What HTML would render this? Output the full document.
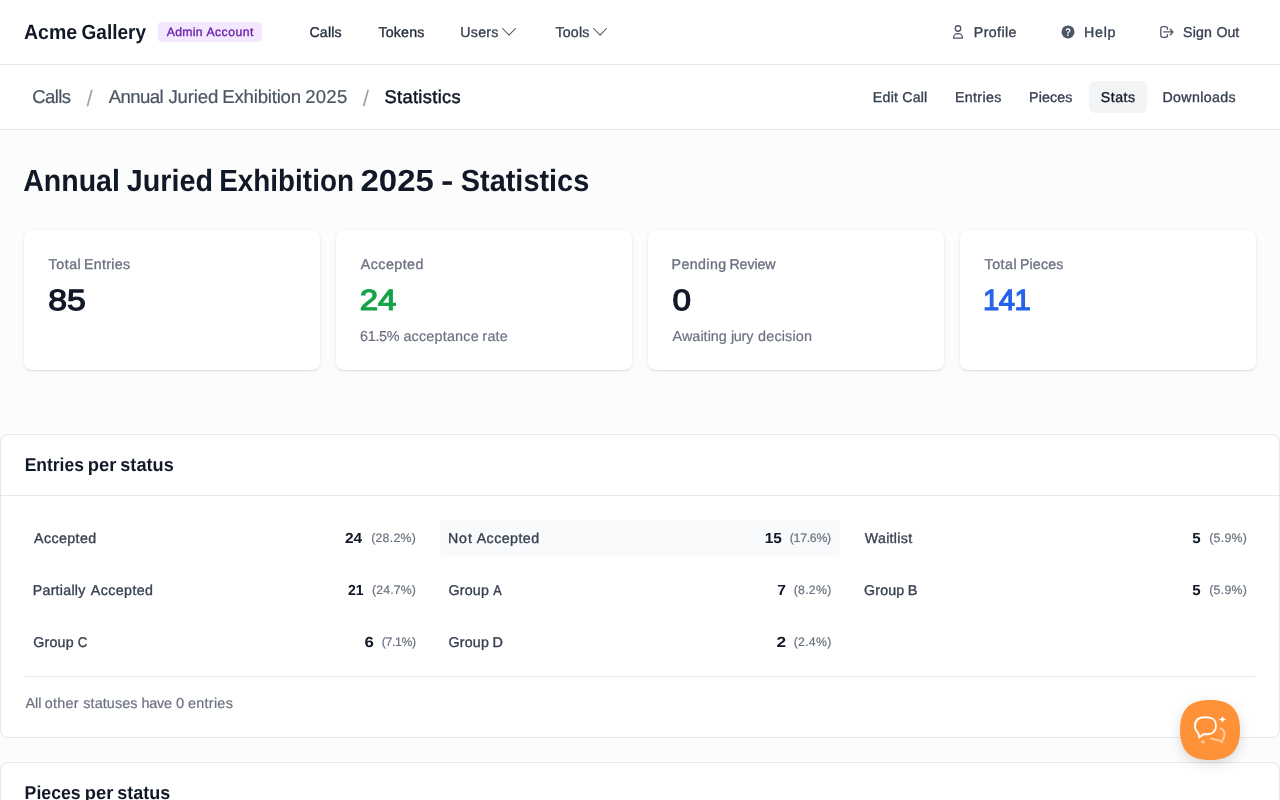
<!DOCTYPE html>
<html lang="en">
<head>
<meta charset="utf-8">
<title>Annual Juried Exhibition 2025 - Statistics</title>
<style>
*{box-sizing:border-box;margin:0;padding:0}
html,body{width:1280px;height:800px;overflow:hidden}
body{font-family:"Liberation Sans",Arial,sans-serif;background:#fcfcfc;color:#111827;position:relative;text-rendering:geometricPrecision}
a{color:inherit;text-decoration:none}
.t{position:absolute;white-space:nowrap;line-height:1;transform-origin:0 0}
.w{display:inline-block;position:relative;transform-origin:0 0}
.bar{position:absolute;left:0;width:1280px;background:#fff;border-bottom:1px solid #e5e7eb}
.badgebg{position:absolute;left:158px;top:22px;width:104px;height:20px;border-radius:4px;background:#f3e8ff}
.tabbg{position:absolute;left:1089px;top:81px;width:58px;height:32px;border-radius:6px;background:#f3f4f6}
.card{position:absolute;top:230px;width:296px;height:140px;background:#fff;border-radius:8px;box-shadow:0 1px 3px rgba(0,0,0,.1),0 1px 2px -1px rgba(0,0,0,.1)}
.panel{position:absolute;left:0;width:1280px;background:#fff;border:1px solid #e5e7eb;border-radius:8px}
.hr{position:absolute;height:1px;background:#e5e7eb}
.hl{position:absolute;left:440.33px;top:520px;width:399.33px;height:36px;border-radius:4px;background:#f9fafb}
.ico{position:absolute;overflow:visible}
.fab{position:absolute;left:1180px;top:700px;width:60px;height:60px;filter:drop-shadow(0 4px 6px rgba(0,0,0,.14))}
.brand{font-size:20.6px;font-weight:700;color:#111827}
.badge{font-size:12.2px;font-weight:400;color:#6b21a8;-webkit-text-stroke:0.35px #6b21a8}
.navd{font-size:14.2px;font-weight:400;color:#1f2937;-webkit-text-stroke:0.35px #1f2937}
.navl{font-size:14.2px;font-weight:400;color:#374151;-webkit-text-stroke:0.35px #374151}
.bc{font-size:18.6px;font-weight:400;color:#4b5563;-webkit-text-stroke:0.2px #4b5563}
.bcs{font-size:22.6px;font-weight:400;color:#9ca3af}
.bcc{font-size:18.3px;font-weight:400;color:#111827;-webkit-text-stroke:0.5px #111827}
.tab{font-size:14.2px;font-weight:400;color:#374151;-webkit-text-stroke:0.35px #374151}
.taba{font-size:14.2px;font-weight:400;color:#111827;-webkit-text-stroke:0.35px #111827}
.h1{font-size:30.6px;font-weight:700;color:#111827}
.lb{font-size:14.2px;font-weight:400;color:#6b7280;-webkit-text-stroke:0.35px #6b7280}
.val{font-size:29.3px;font-weight:400;color:#111827;-webkit-text-stroke:1.2px #111827}
.valg{font-size:29.3px;font-weight:400;color:#16a34a;-webkit-text-stroke:1.2px #16a34a}
.valb{font-size:29.3px;font-weight:400;color:#2563eb;-webkit-text-stroke:1.2px #2563eb}
.nt{font-size:14.4px;font-weight:400;color:#6b7280;-webkit-text-stroke:0.2px #6b7280}
.h2{font-size:18.7px;font-weight:700;color:#111827}
.rl{font-size:14.2px;font-weight:400;color:#374151;-webkit-text-stroke:0.35px #374151}
.rc{font-size:14.6px;font-weight:700;color:#111827}
.rp{font-size:12.3px;font-weight:400;color:#6b7280;-webkit-text-stroke:0.2px #6b7280}
</style>
</head>
<body>
<nav>
<div class="bar" style="top:0;height:65px"></div>
<a class="t brand" style="left:24px;top:23px"><span class="w" style="left:0px;transform:translateX(0.03px) scaleX(0.9473)">Acme</span> <span class="w" style="left:-4.828px;transform:translateX(0.56px) scaleX(0.9239)">Gallery</span></a>
<div class="badgebg"></div>
<span class="t badge" style="left:166px;top:26px"><span class="w" style="left:0.75px;letter-spacing:0.288px">Admin</span> <span class="w" style="left:1.109px;letter-spacing:0.458px">Account</span></span>
<a class="t navd" style="top:26px;left:309.5px;letter-spacing:0.125px">Calls</a>
<a class="t navd" style="top:26px;left:378.5px;letter-spacing:0.17px">Tokens</a>
<a class="t navl" style="top:26px;left:460.25px;letter-spacing:0.275px">Users</a>
<svg class="ico" style="left:500px;top:24px" width="18" height="16" viewBox="500 24 18 16" fill="none" stroke="#4b5563" stroke-width="1.05" stroke-linecap="round" stroke-linejoin="round"><path d="M502.6 28.5 L509 35.1 L515.4 28.5"/></svg>
<a class="t navl" style="top:26px;left:555.4px;letter-spacing:0.238px">Tools</a>
<svg class="ico" style="left:591px;top:24px" width="18" height="16" viewBox="591 24 18 16" fill="none" stroke="#4b5563" stroke-width="1.05" stroke-linecap="round" stroke-linejoin="round"><path d="M593.7 28.5 L600.1 35.1 L606.5 28.5"/></svg>
<svg class="ico" style="left:950px;top:24px" width="16" height="16" viewBox="950 24 16 16" fill="none" stroke="#4b5563" stroke-width="1.3" stroke-linejoin="round"><circle cx="958" cy="28.5" r="2.75"/><path d="M953.55 38.1 V37.7 C953.55 35.5 955.3 33.7 957.5 33.7 H958.5 C960.7 33.7 962.45 35.5 962.45 37.7 V38.1 Z"/></svg>
<a class="t navl" style="top:26px;left:973.75px;letter-spacing:0.417px">Profile</a>
<svg class="ico" style="left:1060px;top:24px" width="16" height="16" viewBox="1060 24 16 16"><circle cx="1068" cy="31.9" r="6.5" fill="#4b5563"/><text transform="translate(1068.1 35.9) scale(.82 1)" text-anchor="middle" font-family="Liberation Sans, Arial, sans-serif" font-size="11.2" font-weight="700" fill="#fff">?</text></svg>
<a class="t navl" style="top:26px;left:1084px;letter-spacing:0.75px">Help</a>
<svg class="ico" style="left:1158px;top:24px" width="18" height="16" viewBox="1158 24 18 16" fill="none" stroke="#4b5563" stroke-width="1.3" stroke-linecap="round" stroke-linejoin="round"><path d="M1167.5 29.3 V28.7 a2 2 0 0 0 -2 -2 H1162.8 a2 2 0 0 0 -2 2 V35.3 a2 2 0 0 0 2 2 H1165.5 a2 2 0 0 0 2 -2 V34.6"/><path d="M1163.8 31.95 H1172.7 M1170.3 29.2 L1173 31.95 L1170.3 34.7"/></svg>
<a class="t navl" style="left:1183px;top:26px"><span class="w" style="left:0px;letter-spacing:0.167px">Sign</span> <span class="w" style="left:0.369px">Out</span></a>
</nav>
<header>
<div class="bar" style="top:65px;height:65px"></div>
<a class="t bc" style="top:88px;left:32.15px;letter-spacing:-0.575px">Calls</a>
<span class="t bcs" style="top:88px;left:86.58px">/</span>
<a class="t bc" style="left:108px;top:88px"><span class="w" style="left:0.75px;letter-spacing:-0.6px">Annual</span> <span class="w" style="left:1.031px;letter-spacing:-0.18px">Juried</span> <span class="w" style="left:0.031px;letter-spacing:-0.194px">Exhibition</span> <span class="w" style="left:-0.828px;letter-spacing:0.2px">2025</span></a>
<span class="t bcs" style="top:88px;left:362.8px">/</span>
<span class="t bcc" style="top:88px;left:384.5px;letter-spacing:0.333px">Statistics</span>
<a class="t tab" style="left:872px;top:91px"><span class="w" style="left:0.75px;letter-spacing:0.283px">Edit</span> <span class="w" style="left:0.703px;letter-spacing:0.167px">Call</span></a>
<a class="t tab" style="top:91px;left:955px;letter-spacing:0.358px">Entries</a>
<a class="t tab" style="top:91px;left:1029px;letter-spacing:0.17px">Pieces</a>
<div class="tabbg"></div>
<a class="t taba" style="top:91px;left:1100.75px;letter-spacing:0.5px">Stats</a>
<a class="t tab" style="top:91px;left:1162.5px;letter-spacing:0.363px">Downloads</a>
</header>
<main>
<h1 class="t h1" style="left:23px;top:166px"><span class="w" style="left:0px;transform:translateX(0.2px) scaleX(0.933)">Annual</span> <span class="w" style="left:-9.188px;transform:translateX(0.78px) scaleX(0.9384)">Juried</span> <span class="w" style="left:-16.5px;transform:translateX(0.18px) scaleX(0.9115)">Exhibition</span> <span class="w" style="left:-31.875px;transform:translateX(0.42px) scaleX(1.0792)">2025</span> <span class="w" style="left:-27.438px;transform:translateX(0px) scaleX(1.22)">-</span> <span class="w" style="left:-27.141px;transform:translateX(0.81px) scaleX(0.9439)">Statistics</span></h1>
<article><div class="card" style="left:24px"></div>
<span class="t lb" style="left:48px;top:258px"><span class="w" style="left:0.6px;letter-spacing:0.537px">Total</span> <span class="w" style="left:-0.609px;letter-spacing:0.308px">Entries</span></span>
<span class="t val" style="top:286px;left:48px;transform:translateX(0.14px) scaleX(1.152)">85</span>
</article>
<article><div class="card" style="left:336px"></div>
<span class="t lb" style="top:258px;left:360.85px;letter-spacing:0.479px">Accepted</span>
<span class="t valg" style="top:286px;left:359px;transform:translateX(0.75px) scaleX(1.127)">24</span>
<span class="t nt" style="left:360px;top:330px"><span class="w" style="left:0.1px;letter-spacing:-0.35px">61.5%</span> <span class="w" style="left:0.337px;letter-spacing:0.189px">acceptance</span> <span class="w" style="left:-0.212px;letter-spacing:0.233px">rate</span></span>
</article>
<article><div class="card" style="left:648px"></div>
<span class="t lb" style="left:671px;top:258px"><span class="w" style="left:0.6px;letter-spacing:0.408px">Pending</span> <span class="w" style="left:-0.491px;letter-spacing:-0.08px">Review</span></span>
<span class="t val" style="top:286px;left:672px;transform:translateX(0.43px) scaleX(1.1344)">0</span>
<span class="t nt" style="left:672px;top:330px"><span class="w" style="left:0.6px;letter-spacing:0.021px">Awaiting</span> <span class="w" style="left:0.587px;letter-spacing:-0.25px">jury</span> <span class="w" style="left:1.584px;letter-spacing:0.157px">decision</span></span>
</article>
<article><div class="card" style="left:960px"></div>
<span class="t lb" style="left:984px;top:258px"><span class="w" style="left:0.6px;letter-spacing:0.512px">Total</span> <span class="w" style="left:-0.584px;letter-spacing:0.17px">Pieces</span></span>
<span class="t valb" style="top:286px;left:983.1px;letter-spacing:-0.65px">141</span>
</article>
<section>
<div class="panel" style="top:434px;height:304px"></div>
<h2 class="t h2" style="left:24px;top:456px"><span class="w" style="left:0px;transform:translateX(0.63px) scaleX(0.9355)">Entries</span> <span class="w" style="left:-5.562px;transform:translateX(0.77px) scaleX(0.9818)">per</span> <span class="w" style="left:-6.859px;transform:translateX(0.27px) scaleX(0.972)">status</span></h2>
<div class="hr" style="left:1px;top:495px;width:1278px"></div>
<div class="hl"></div>
<span class="t rl" style="top:532px;left:34px;letter-spacing:0.429px">Accepted</span>
<span class="t rc" style="top:532px;left:344px;transform:translateX(0.97px) scaleX(1.0603)">24</span>
<span class="t rp" style="top:532px;left:371.15px;letter-spacing:0.275px">(28.2%)</span>
<span class="t rl" style="left:447px;top:532px"><span class="w" style="left:0.9px;letter-spacing:0.925px">Not</span> <span class="w" style="left:0.837px;letter-spacing:0.464px">Accepted</span></span>
<span class="t rc" style="top:532px;left:764px;transform:translateX(0.74px) scaleX(1.0576)">15</span>
<span class="t rp" style="top:532px;left:789.75px;letter-spacing:-0.275px">(17.6%)</span>
<span class="t rl" style="top:532px;left:864.75px;letter-spacing:0.314px">Waitlist</span>
<span class="t rc" style="top:532px;left:1192px;transform:translateX(0.28px) scaleX(1.0345)">5</span>
<span class="t rp" style="top:532px;left:1209.25px;letter-spacing:0.27px">(5.9%)</span>
<span class="t rl" style="left:32px;top:584px"><span class="w" style="left:0.75px;letter-spacing:0.262px">Partially</span> <span class="w" style="left:2.069px;letter-spacing:0.421px">Accepted</span></span>
<span class="t rc" style="top:584px;left:347px;transform:translateX(0.92px) scaleX(0.9574)">21</span>
<span class="t rp" style="top:584px;left:371.95px;letter-spacing:0.142px">(24.7%)</span>
<span class="t rl" style="left:448px;top:584px"><span class="w" style="left:0.4px;letter-spacing:0.25px">Group</span> <span class="w" style="left:0.359px;transform:translateX(0.32px) scaleX(0.89)">A</span></span>
<span class="t rc" style="top:584px;left:777px;transform:translateX(0.26px) scaleX(1.0714)">7</span>
<span class="t rp" style="top:584px;left:793.65px;letter-spacing:0.29px">(8.2%)</span>
<span class="t rl" style="left:864px;top:584px"><span class="w" style="left:0px;letter-spacing:0.188px">Group</span> <span class="w" style="left:-1.328px;transform:translateX(0.73px) scaleX(1.0187)">B</span></span>
<span class="t rc" style="top:584px;left:1192px;transform:translateX(0.28px) scaleX(1.0345)">5</span>
<span class="t rp" style="top:584px;left:1209.25px;letter-spacing:0.27px">(5.9%)</span>
<span class="t rl" style="left:33px;top:636px"><span class="w" style="left:0.25px;letter-spacing:0.212px">Group</span> <span class="w" style="left:-0.453px;transform:translateX(0.64px) scaleX(0.9263)">C</span></span>
<span class="t rc" style="top:636px;left:364px;transform:translateX(0.42px) scaleX(1.1571)">6</span>
<span class="t rp" style="top:636px;left:381.75px;letter-spacing:-0.39px">(7.1%)</span>
<span class="t rl" style="left:448px;top:636px"><span class="w" style="left:0.4px;letter-spacing:0.25px">Group</span> <span class="w" style="left:-0.641px;transform:translateX(0.38px) scaleX(1.0171)">D</span></span>
<span class="t rc" style="top:636px;left:776px;transform:translateX(0.41px) scaleX(1.1857)">2</span>
<span class="t rp" style="top:636px;left:793.65px;letter-spacing:0.29px">(2.4%)</span>
<div class="hr" style="left:25px;top:676px;width:1230px"></div>
<span class="t nt" style="left:25px;top:697px"><span class="w" style="left:0.4px;letter-spacing:-0.025px">All</span> <span class="w" style="left:-0.122px;letter-spacing:0.238px">other</span> <span class="w" style="left:0.428px;letter-spacing:0.071px">statuses</span> <span class="w" style="left:0.356px;letter-spacing:-0.233px">have</span> <span class="w" style="left:-0.375px;transform:translateX(0.89px) scaleX(1.0286)">0</span> <span class="w" style="left:0.609px;letter-spacing:0.275px">entries</span></span>
</section>
<section>
<div class="panel" style="top:762px;height:200px"></div>
<h2 class="t h2" style="left:24px;top:784px"><span class="w" style="left:0px;transform:translateX(0.62px) scaleX(0.9467)">Pieces</span> <span class="w" style="left:-4.438px;transform:translateX(0.77px) scaleX(0.9818)">per</span> <span class="w" style="left:-5.734px;transform:translateX(0.28px) scaleX(0.9626)">status</span></h2>
</section>
</main>
<svg class="fab" width="60" height="60" viewBox="0 0 60 60"><path d="M30 0 C50.5 0 60 9.5 60 30 C60 50.5 50.5 60 30 60 C9.5 60 0 50.5 0 30 C0 9.5 9.5 0 30 0 Z" fill="#ff9238"/>
<g fill="none" stroke="#fff" stroke-width="1.9" stroke-linejoin="round" stroke-linecap="round"><path d="M25.5 17.2 C31.8 17.2 35.6 18.8 36 25 C36.3 30.6 33 34 28 34.2 L23.6 34.3 L19.2 37.6 L18.3 33.2 C16 31.2 15 28.6 15 25.6 C15 20 18.6 17.2 25.5 17.2 Z"/><path d="M40.6 28.4 C43.6 29.6 44.8 32 44.4 35 C44.2 37.2 43.4 38.8 42.6 40 L41.8 42.4 L39.4 40.3 C36.5 40.3 33.4 39.6 30.8 38.4" opacity=".5"/></g>
<path d="M42.5 15.7 C42.9 18 43.9 19 46.2 19.4 C43.9 19.8 42.9 20.8 42.5 23.1 C42.1 20.8 41.1 19.8 38.8 19.4 C41.1 19 42.1 18 42.5 15.7 Z" fill="#fff"/>
<path d="M22.9 39.8 C23.2 41.1 23.8 41.7 25.1 42 C23.8 42.3 23.2 42.9 22.9 44.2 C22.6 42.9 22 42.3 20.7 42 C22 41.7 22.6 41.1 22.9 39.8 Z" fill="#fff" stroke="#fff" stroke-width=".6" stroke-linejoin="round" opacity=".5"/></svg>
</body>
</html>
